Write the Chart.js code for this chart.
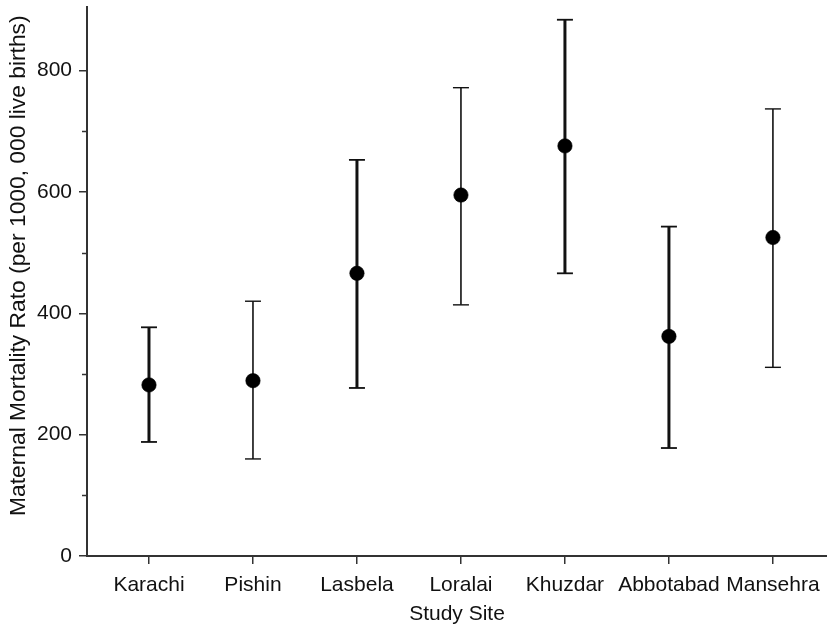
<!DOCTYPE html>
<html>
<head>
<meta charset="utf-8">
<script src="https://cdn.jsdelivr.net/npm/chart.js@4/dist/chart.umd.min.js"></script>
<style>
  html, body { margin: 0; padding: 0; background: #fff; }
  #wrap { width: 827px; height: 628px; }
</style>
</head>
<body>
<div id="wrap"><canvas id="c" width="827" height="628"></canvas></div>
<script>
// Maternal mortality ratio by study site, with confidence interval bounds
const sites  = ['Karachi', 'Pishin', 'Lasbela', 'Loralai', 'Khuzdar', 'Abbotabad', 'Mansehra'];
const mmr    = [282, 289, 466, 595, 676, 362, 525];
const ciLow  = [188, 160, 277, 414, 466, 178, 311];
const ciHigh = [377, 420, 653, 772, 884, 543, 737];

// Axis ticks
const yMajorTicks = [0, 200, 400, 600, 800];
const yMinorTicks = [100, 300, 500, 700];

// Styling
const INK = '#111';
const AXIS = '#333';
const FONT_FAMILY = "'Liberation Sans', Arial, Helvetica, sans-serif";
const heavy = [true, false, true, false, true, true, false];   // whisker weight per site

// One vertical whisker (with end caps) per site
const whiskerSets = sites.map((name, i) => ({
  type: 'line',
  label: name,
  data: [{ x: i, y: ciLow[i] }, { x: i, y: ciHigh[i] }],
  borderColor: INK,
  borderWidth: heavy[i] ? 3 : 1.6,
  pointStyle: 'line',
  pointRadius: 8,
  pointHoverRadius: 8,
  pointBorderWidth: heavy[i] ? 1.8 : 1.4,
  pointBorderColor: INK,
  fill: false,
  order: 1
}));

const meanSet = {
  type: 'scatter',
  label: 'MMR',
  data: sites.map((name, i) => ({ x: i, y: mmr[i] })),
  pointRadius: 7.2,
  pointHoverRadius: 7.2,
  backgroundColor: '#000',
  borderColor: '#000',
  borderWidth: 0.6,
  order: 0
};

// Short unlabelled ticks between the labelled ones on the value axis
const minorTickPlugin = {
  id: 'minorTicks',
  afterDraw(chart) {
    const y = chart.scales.y;
    const left = chart.chartArea.left;
    const ctx = chart.ctx;
    ctx.save();
    ctx.strokeStyle = AXIS;
    ctx.lineWidth = 1.5;
    yMinorTicks.forEach(v => {
      const py = Math.round(y.getPixelForValue(v)) + 0.5;
      ctx.beginPath();
      ctx.moveTo(left - 5, py);
      ctx.lineTo(left, py);
      ctx.stroke();
    });
    ctx.restore();
  }
};

new Chart(document.getElementById('c'), {
  type: 'scatter',
  data: { datasets: [meanSet, ...whiskerSets] },
  options: {
    responsive: false,
    devicePixelRatio: 1,
    animation: false,
    layout: { autoPadding: false, padding: { top: 7, right: 0, bottom: 0, left: 0 } },
    plugins: { legend: { display: false }, tooltip: { enabled: false } },
    scales: {
      x: {
        type: 'linear',
        min: -0.596,
        max: 6.52,
        afterBuildTicks: sc => { sc.ticks = sites.map((n, i) => ({ value: i })); },
        afterFit: sc => { sc.height = 72; sc.paddingLeft = 0; sc.paddingRight = 0; },
        ticks: {
          callback: v => sites[v],
          autoSkip: false,
          maxRotation: 0,
          padding: 9,
          color: INK,
          font: { family: FONT_FAMILY, size: 21 }
        },
        grid: { drawOnChartArea: false, drawTicks: true, tickLength: 8, color: AXIS, lineWidth: 1.5 },
        border: { display: true, color: AXIS, width: 2 },
        title: {
          display: true,
          text: 'Study Site',
          color: INK,
          font: { family: FONT_FAMILY, size: 21 },
          padding: { top: 0, bottom: 1 }
        }
      },
      y: {
        type: 'linear',
        min: 0,
        max: 905,
        afterBuildTicks: sc => { sc.ticks = yMajorTicks.map(v => ({ value: v })); },
        afterFit: sc => { sc.width = 87; sc.paddingTop = 0; sc.paddingBottom = 0; },
        ticks: {
          padding: 7,
          color: INK,
          font: { family: FONT_FAMILY, size: 21 }
        },
        grid: { drawOnChartArea: false, drawTicks: true, tickLength: 8, color: AXIS, lineWidth: 1.5 },
        border: { display: true, color: AXIS, width: 2 },
        title: {
          display: true,
          // leading spaces lift the centred label slightly above the axis midpoint
          text: '     Maternal Mortality Rato (per 1000, 000 live births)',
          color: INK,
          font: { family: FONT_FAMILY, size: 22.8 },
          padding: { top: 5, bottom: 0 }
        }
      }
    }
  },
  plugins: [minorTickPlugin]
});
</script>
</body>
</html>
